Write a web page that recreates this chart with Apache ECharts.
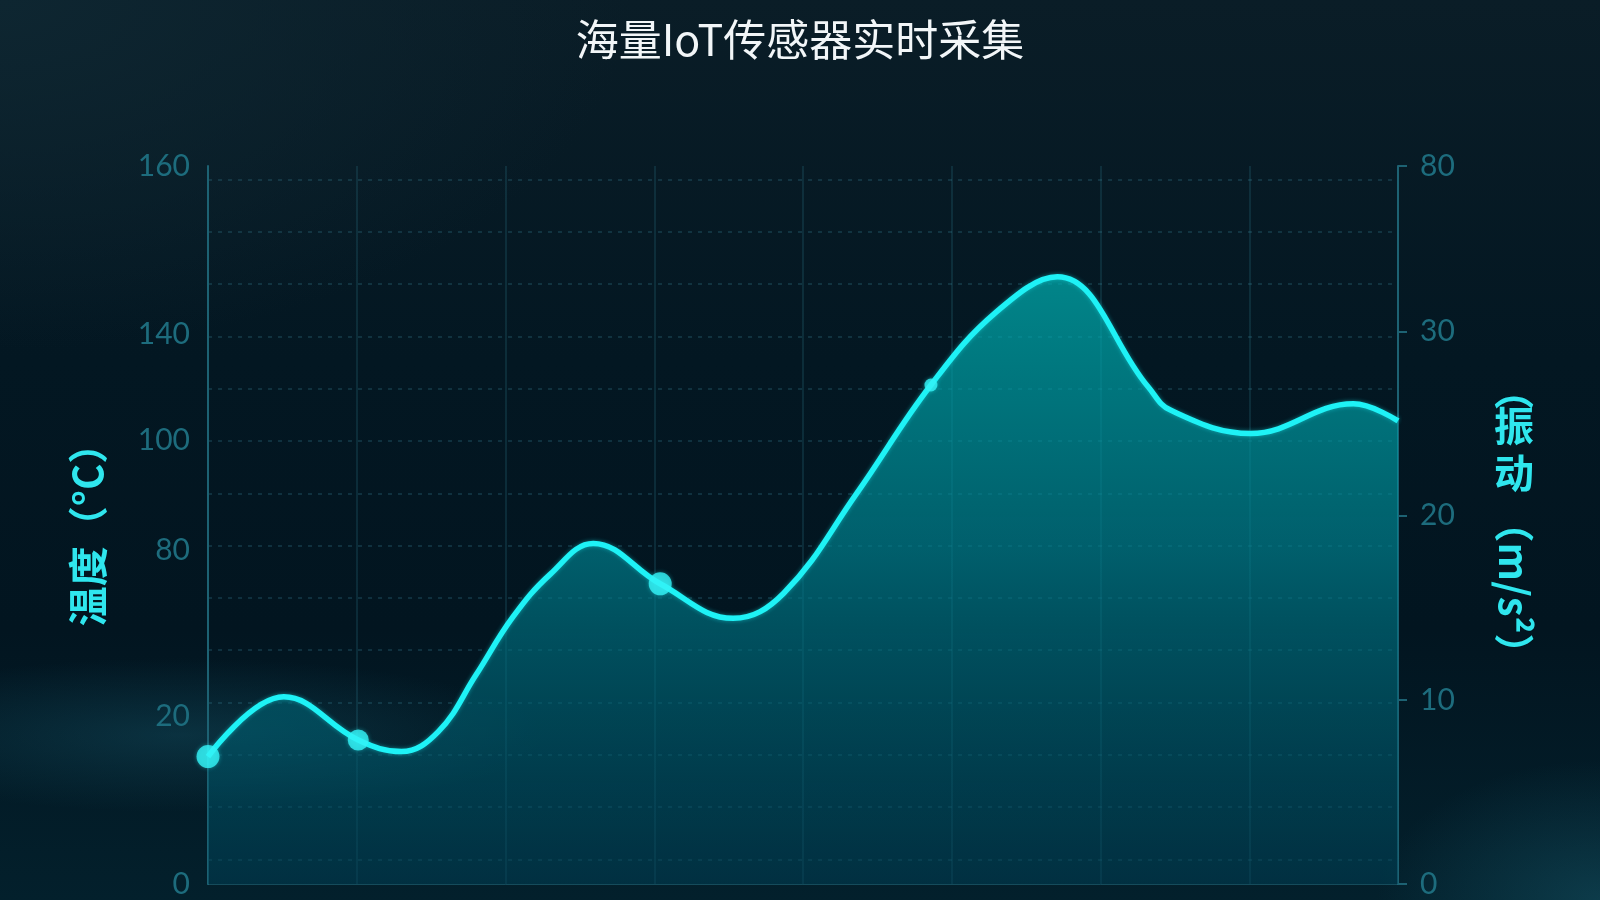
<!DOCTYPE html>
<html>
<head>
<meta charset="utf-8">
<title>海量IoT传感器实时采集</title>
<script src="https://cdn.jsdelivr.net/npm/echarts@6/dist/echarts.min.js"></script>
<style>
  html, body { margin: 0; padding: 0; }
  body {
    width: 1600px; height: 900px; overflow: hidden;
    background:
      radial-gradient(ellipse 520px 110px at 180px 735px, rgba(25,95,115,0.35), rgba(0,0,0,0) 70%),
      radial-gradient(ellipse 320px 200px at 1600px 900px, rgba(30,110,130,0.35), rgba(0,0,0,0) 70%),
      radial-gradient(ellipse 900px 500px at 0 0, #0e2631 0%, rgba(0,0,0,0) 70%),
      linear-gradient(180deg, #0a1d27 0%, #031722 40%, #021520 70%, #03202c 100%);
  }
  #main { width: 1600px; height: 900px; }
</style>
</head>
<body>
<div id="main"></div>
<script>
// points: peaks, troughs and a few in between (x 0..8 = the vertical grid columns)
const sampleX = [0, 0.51, 1.01, 1.30, 1.55, 1.8, 2.05, 2.3, 2.59, 3.04, 3.53, 3.87, 4.36, 4.86, 5.3, 5.71, 6.32, 6.47, 7.01, 7.70, 8.0];
const temperature = [28.4, 41.7, 32.1, 29.5, 34.0, 46.5, 59.5, 69.0, 75.9, 66.9, 59.2, 64.8, 87.0, 111.2, 127.5, 135.3, 110.8, 105.6, 100.4, 107.0, 103.2];
// the dots sitting on the curve
const markerX = [0, 1.01, 3.04, 4.86];
const markerTemp = [28.4, 32.1, 66.9, 111.2];
const markerSize = [23, 21, 23, 13];

// tick labels as printed in the picture, and where they sit on each scale
const leftTickLabels = ['0', '20', '80', '100', '140', '160'];
const leftTickValues = [0, 37.3, 74.4, 98.9, 122.6, 160];
const rightTickLabels = ['0', '10', '20', '30', '80'];
const rightTickValues = [0, 10, 20, 30, 39];

const gridLineValues = [];
for (let k = 0; k < 14; k++) gridLineValues.push(+(5.5 + 11.65 * k).toFixed(2));

const lineData = sampleX.map((x, i) => [x, temperature[i]]);
const dotData = markerX.map((x, i) => ({
  value: [x, markerTemp[i]],
  symbolSize: markerSize[i]
}));

function lookup(values, labels) {
  return function (v) {
    let best = 0;
    for (let i = 1; i < values.length; i++) {
      if (Math.abs(values[i] - v) < Math.abs(values[best] - v)) best = i;
    }
    return labels[best];
  };
}

const tickColor = '#1d6c7d';
const nameColor = '#2fe6ee';
const axisFont = { color: tickColor, fontSize: 30, fontFamily: 'Lato' };
const nameFont = { fill: nameColor, fontSize: 40, fontWeight: 'bold', fontFamily: 'Noto Sans CJK SC' };

const chart = echarts.init(document.getElementById('main'));
chart.setOption({
  backgroundColor: 'transparent',
  title: {
    text: '海量IoT传感器实时采集',
    left: 'center',
    top: 13,
    textStyle: { color: '#f2f6f8', fontSize: 43, fontWeight: 'normal', fontFamily: 'Noto Sans CJK SC' }
  },
  grid: { left: 208, right: 202, top: 166, bottom: 16 },
  // right axis title: upright hanzi, sideways unit, as in the picture
  graphic: [
    { type: 'text', x: 1514, y: 390, style: Object.assign({ text: '︵', align: 'center', verticalAlign: 'middle' }, nameFont) },
    { type: 'text', x: 1514, y: 449, style: Object.assign({ text: '振\n动', align: 'center', verticalAlign: 'middle', lineHeight: 47 }, nameFont) },
    { type: 'text', x: 1514, y: 588, rotation: -Math.PI / 2, style: Object.assign({ text: '（m/s²）', align: 'center', verticalAlign: 'middle' }, nameFont) }
  ],
  xAxis: {
    type: 'value',
    min: 0, max: 8, interval: 1,
    axisLine: { show: true, lineStyle: { color: 'rgba(40,120,140,0.5)' } },
    axisTick: { show: false },
    axisLabel: { show: false },
    splitLine: { show: true, lineStyle: { color: 'rgba(50,130,150,0.28)', width: 1.5 } }
  },
  yAxis: [
    {
      type: 'value',
      position: 'left',
      min: 0, max: 160,
      name: '温度（°C）',
      nameLocation: 'middle',
      nameRotate: 90,
      nameGap: 100,
      nameTextStyle: { color: nameColor, fontSize: 40, fontWeight: 'bold', fontFamily: 'Noto Sans CJK SC' },
      axisLine: { show: true, lineStyle: { color: '#1d6273', width: 2 } },
      axisTick: { show: false, customValues: gridLineValues },
      axisLabel: Object.assign({ customValues: leftTickValues, margin: 18, formatter: lookup(leftTickValues, leftTickLabels) }, axisFont),
      splitLine: { show: true, lineStyle: { color: 'rgba(60,140,160,0.32)', type: [4, 6], width: 1.5 } }
    },
    {
      type: 'value',
      position: 'right',
      min: 0, max: 39,
      axisLine: { show: true, lineStyle: { color: '#1d6273', width: 2 } },
      axisTick: { show: true, customValues: rightTickValues, length: 9, lineStyle: { color: '#1d6273', width: 2 } },
      axisLabel: Object.assign({ customValues: rightTickValues, margin: 22, formatter: lookup(rightTickValues, rightTickLabels) }, axisFont),
      splitLine: { show: false }
    }
  ],
  series: [
    {
      type: 'line',
      yAxisIndex: 0,
      data: lineData,
      smooth: 0.4,
      showSymbol: false,
      lineStyle: { color: '#1ef2f6', width: 5.5, shadowColor: 'rgba(30,240,244,0.45)', shadowBlur: 4 },
      areaStyle: {
        color: new echarts.graphic.LinearGradient(0, 0, 0, 1, [
          { offset: 0, color: 'rgba(0,180,182,1)' },
          { offset: 0.45, color: 'rgba(0,132,146,0.95)' },
          { offset: 1, color: 'rgba(0,64,86,0.75)' }
        ])
      },
      z: 2
    },
    {
      type: 'scatter',
      yAxisIndex: 0,
      data: dotData,
      itemStyle: { color: '#34f2f6', shadowColor: 'rgba(40,240,244,0.5)', shadowBlur: 4 },
      z: 3
    }
  ]
});
</script>
</body>
</html>
